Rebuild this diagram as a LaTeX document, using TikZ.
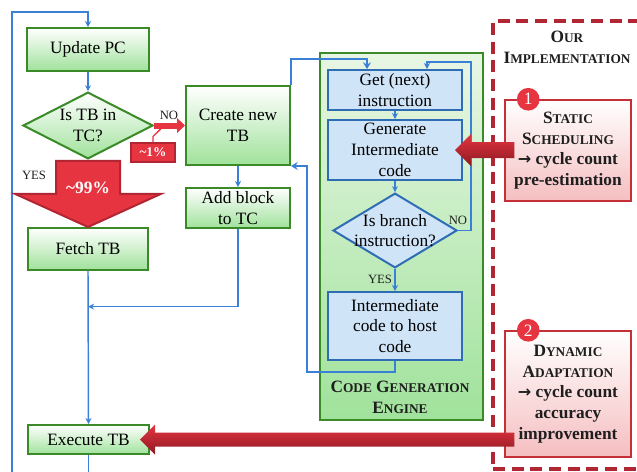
\documentclass[tikz,border=0pt]{standalone}
\usepackage{fontspec}
\setmainfont{Liberation Serif}
\newfontfamily\arrowfont{DejaVu Sans}
\usetikzlibrary{shapes.geometric,arrows.meta,calc}

\definecolor{grnB}{RGB}{58,138,40}
\definecolor{grnF}{RGB}{160,226,155}
\definecolor{grnT}{RGB}{232,246,228}
\definecolor{bluL}{RGB}{58,128,214}
\definecolor{bluB}{RGB}{46,108,180}
\definecolor{bluF}{RGB}{208,228,247}
\definecolor{redA}{RGB}{230,52,64}
\definecolor{redD}{RGB}{176,38,50}
\definecolor{redK}{RGB}{140,26,34}
\definecolor{redE}{RGB}{197,48,56}
\definecolor{pinkF}{RGB}{245,190,192}
\definecolor{txtG}{RGB}{30,30,30}

\newcommand\smcap[2]{#1{\fontsize{10}{12}\selectfont #2}}
\newcommand\boxfont{\fontsize{13}{15.5}\selectfont}
\newcommand\toarr{{\arrowfont\bfseries\fontsize{12}{12}\selectfont →}}

\tikzset{
  grnbox/.style={draw=grnB, line width=1.5pt, top color=white, bottom color=grnF,
    align=center, font=\boxfont, inner xsep=1pt, inner ysep=0pt},
  grndiam/.style={diamond, draw=grnB, line width=1.5pt, top color=white, bottom color=grnF, inner sep=0pt},
  bluebox/.style={draw=bluB, line width=1.5pt, fill=bluF,
    align=center, font=\boxfont, inner xsep=1pt, inner ysep=0pt},
  bluediam/.style={diamond, draw=bluB, line width=1.5pt, fill=bluF, inner sep=0pt},
  dtext/.style={align=center, font=\boxfont, inner sep=0pt},
  engbox/.style={draw=grnB, line width=1.5pt, top color=grnT, bottom color=grnF},
  heads/.style={align=center, font=\boxfont\bfseries, text=txtG, inner sep=0pt},
  implbox/.style={draw=redD, line width=3pt, dash pattern=on 9pt off 5pt},
  redbox/.style={draw=redE, line width=1.1pt, top color=white, bottom color=pinkF,
    align=center, font=\boxfont\bfseries, text=txtG, inner sep=1pt},
  numdot/.style={circle, fill=redA, text=white, minimum size=17pt, inner sep=0pt,
    font=\fontsize{13}{13}\selectfont},
  small/.style={font=\fontsize{9.5}{11}\selectfont, text=txtG, inner sep=0pt},
  pctbox/.style={draw=redD, line width=0.8pt, fill=redA, text=white,
    font=\fontsize{10}{12}\selectfont\bfseries, minimum width=33pt, minimum height=14.25pt, inner sep=0pt},
  flow/.style={draw=bluL, line width=1.1pt, -{Stealth[length=4.5pt,width=4.5pt]}},
  thickflow/.style={draw=bluL, line width=2.2pt, -{Stealth[length=5pt,width=6pt]}},
  bigarr/.style={fill=redA, draw=redD, line width=1.5pt, line join=miter},
  sidearr/.style={top color=redA, bottom color=redK}
}

\begin{document}
\begin{tikzpicture}[x=0.75pt,y=0.75pt,yscale=-1,xscale=1]
\useasboundingbox (0,0) rectangle (637,472);
\clip (0,0) rectangle (637,472);

% main translation loop
\node[grnbox, minimum width=91.5pt, minimum height=32.25pt] (upd) at (88,49.5) {Update PC};
\node[grndiam, minimum width=97.5pt, minimum height=50pt,
  label={[dtext]center:{Is TB in\\TC?}}] (isin) at (88,125.5) {};
\node[grnbox, minimum width=90pt, minimum height=31.5pt] (fetch) at (88,249) {Fetch TB};
\node[grnbox, minimum width=90.75pt, minimum height=21.75pt] (exec) at (88.5,439.5) {Execute TB};
\node[grnbox, minimum width=78pt, minimum height=59.25pt] (cnew) at (238,125.5) {Create new\\TB};
\node[grnbox, minimum width=78pt, minimum height=30pt] (addb) at (238,208) {Add block\\to TC};

% code generation engine
\node[engbox, minimum width=122.25pt, minimum height=275.25pt] (eng) at (401.5,236.5) {};
\node[heads] (engt) at (400,397) {\smcap{C}{ODE} \smcap{G}{ENERATION}\\\smcap{E}{NGINE}};
\node[bluebox, minimum width=100.5pt, minimum height=30pt] (get) at (395,90) {Get (next)\\instruction};
\node[bluebox, minimum width=100.5pt, minimum height=45pt] (gen) at (395,150) {Generate\\Intermediate\\code};
\node[bluediam, minimum width=93pt, minimum height=56pt,
  label={[dtext]center:{Is branch\\instruction?}}] (br) at (395,230.5) {};
\node[bluebox, minimum width=100.5pt, minimum height=51pt] (i2h) at (395,326) {Intermediate\\code to host\\code};

% our implementation
\node[implbox, minimum width=125.25pt, minimum height=336pt] (impl) at (576.5,245) {};
\node[heads] (implt) at (567,47.5) {\smcap{O}{UR}\\\smcap{I}{MPLEMENTATION}};
\node[redbox, minimum width=94.5pt, minimum height=75.75pt] (st) at (568,150.5)
  {\smcap{S}{TATIC}\\\smcap{S}{CHEDULING}\\\toarr{} cycle count\\pre-estimation};
\node[redbox, minimum width=94.5pt, minimum height=94.5pt] (dy) at (568,394)
  {\smcap{D}{YNAMIC}\\\smcap{A}{DAPTATION}\\\toarr{} cycle count\\accuracy\\improvement};
\node[numdot] (n1) at ($(st.north west)+(24,0)$) {1};
\node[numdot] (n2) at ($(dy.north west)+(24,0)$) {2};

% blue connectors
\coordinate (lt) at (12,12);
\draw[flow] (exec.south) -- ++(0,40) -| (lt) -| (upd.north);
\draw[flow] (upd.south) -- (isin.north);
\draw[flow] (cnew.south) -- (addb.north);
\draw[flow] (fetch.south) -- (exec.north);
\draw[flow] (addb.south) |- ($(fetch.south)!0.233!(exec.north)$);
\draw[flow] (get.south) -- (gen.north);
\draw[flow] (gen.south) -- (br.north);
\draw[flow] (br.south) -- (i2h.north);
\coordinate (nr) at (471,62);
\draw[flow] (br.east) -| (nr) -| ([xshift=24pt]get.north);
\draw[thickflow] (cnew.north east) -- ++(0,-26) -| ([xshift=-21pt]get.north);
\draw[thickflow] (i2h.south) -- ++(0,11) -| ($(cnew.south east)+(16,0)$) -- (cnew.south east);

\node[small] (nolbl) at (169,115) {NO};
\node[small] (yeslbl) at (34,175) {YES};
\node[small] (bno) at (458,220) {NO};
\node[small] (byes) at (380,279) {YES};

% red arrows
\draw[draw=redA, line width=4.5pt, -{Triangle[length=6pt,width=11pt]}] (isin.east) -- (cnew.west);
\node[pctbox] (p1) at (153,152.5) {\textasciitilde1\%};
\draw[draw=redA, line width=1pt] (p1.north) -- ++(0,-6) -- ($(isin.east)!0.33!(cnew.west)$);
\draw[bigarr] ($(isin.south)+(-32,1)$) -- ($(isin.south)+(32,1)$) -- ($(isin.south)+(32,34)$)
  -- ($(isin.south)+(73,34)$) -- (fetch.north) -- ($(isin.south)+(-73,34)$)
  -- ($(isin.south)+(-32,34)$) -- cycle;
\node[font=\fontsize{13}{13}\selectfont\bfseries, text=white] (p99) at ($(isin.south)+(0,28)$) {\textasciitilde99\%};

\shade[sidearr] ($(gen.east -| st.west)+(10,-8)$) -- ($(gen.east)+(8,-8)$) -- ($(gen.east)+(8,-16)$)
  -- ($(gen.east)+(-8,0)$) -- ($(gen.east)+(8,16)$) -- ($(gen.east)+(8,8)$)
  -- ($(gen.east -| st.west)+(10,8)$) -- cycle;
\shade[sidearr] ($(exec.east -| dy.west)+(10,-7)$) -- ($(exec.east)+(5,-7)$) -- ($(exec.east)+(5,-15)$)
  -- ($(exec.east)+(-10,0)$) -- ($(exec.east)+(5,15)$) -- ($(exec.east)+(5,7)$)
  -- ($(exec.east -| dy.west)+(10,7)$) -- cycle;
\end{tikzpicture}
\end{document}
